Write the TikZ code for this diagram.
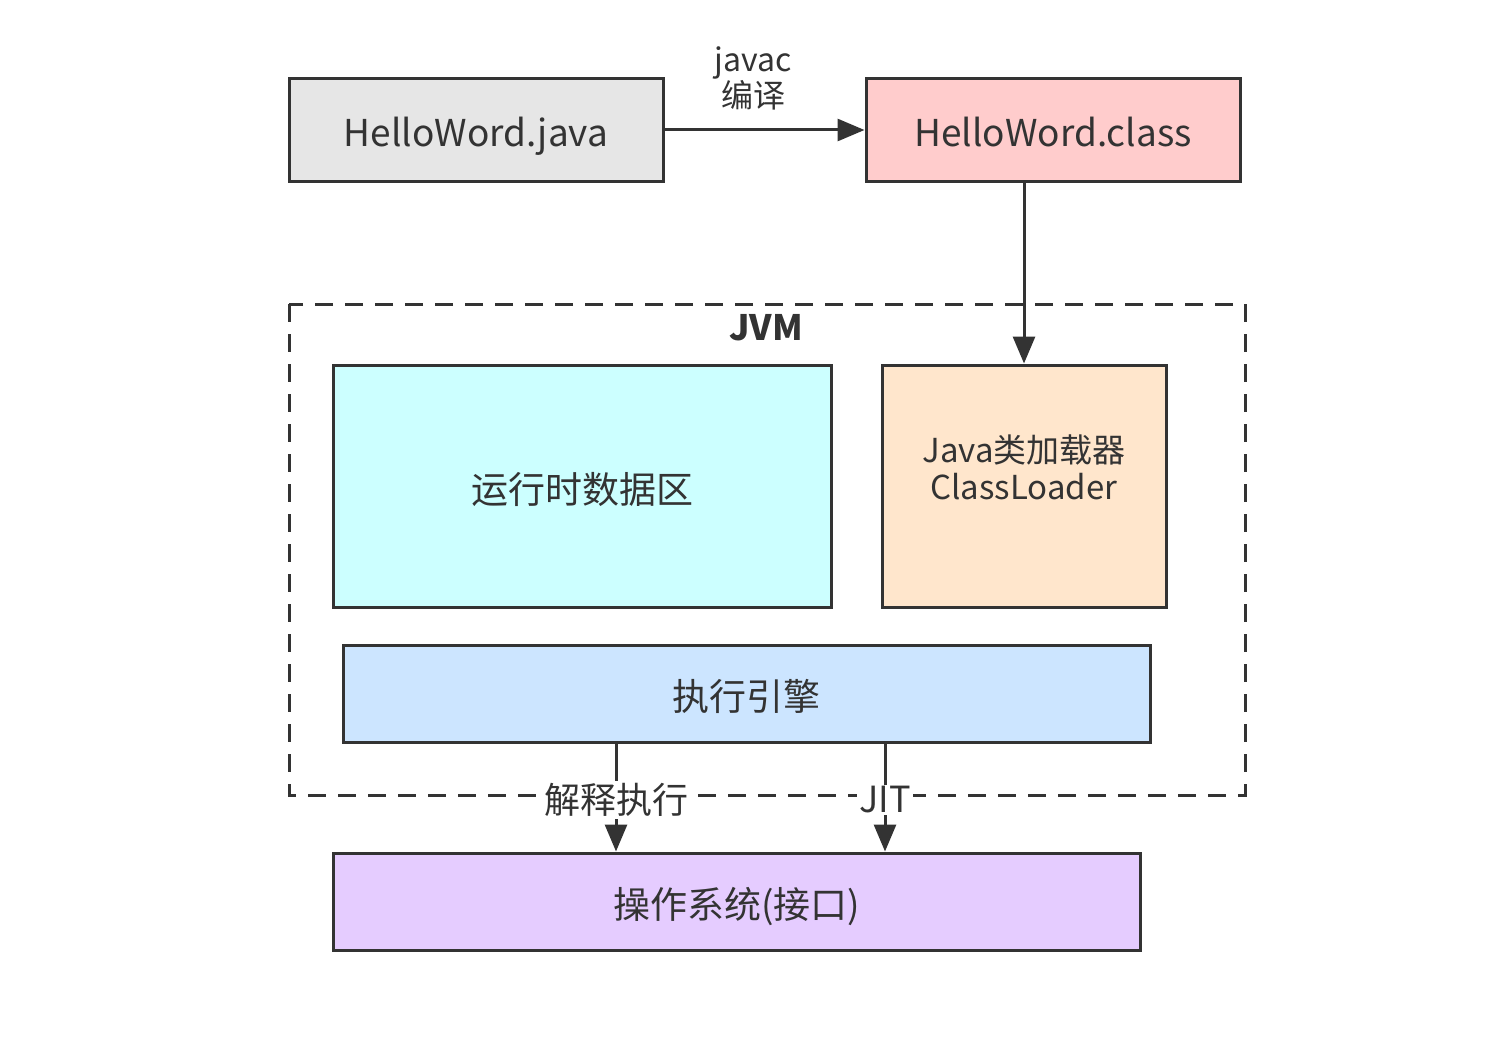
\documentclass[tikz,border=0pt]{standalone}
\usepackage{fontspec}
\setmainfont{Noto Sans CJK SC}
\usetikzlibrary{arrows.meta}
\definecolor{edge}{HTML}{333333}
\definecolor{txt}{HTML}{333333}
\newcommand{\lowered}[2]{\raisebox{#1}[0pt][0pt]{#2}}
\tikzset{
  box/.style={draw=edge, line width=3pt, inner sep=0pt, text=txt, font=\fontsize{37}{44}\selectfont, align=center},
  conn/.style={draw=edge, line width=3pt, -{Triangle[length=27pt,width=22pt]}},
  lbl/.style={fill=white, inner sep=2pt, text=txt, font=\fontsize{36}{40}\selectfont, align=center}
}
\begin{document}
\begin{tikzpicture}[x=1pt,y=-1pt]
\useasboundingbox (0,0) rectangle (1498,1054);
% JVM container
\draw[edge, line width=3pt, dash pattern=on 18pt off 12pt] (289,304) rectangle (1245,795);
\node[font=\bfseries\fontsize{35}{40}\selectfont, text=txt] (jvm) at (766,328) {JVM};
% boxes
\node[box, fill={rgb,255:red,230;green,230;blue,230}, minimum width=374pt, minimum height=102pt] (java) at (476,130) {\lowered{-17pt}{HelloWord.java}};
\node[box, fill={rgb,255:red,255;green,204;blue,204}, minimum width=374pt, minimum height=102pt] (class) at (1053,130) {\lowered{-17pt}{HelloWord.class}};
\node[box, fill={rgb,255:red,204;green,255;blue,255}, minimum width=498pt, minimum height=242pt] (rt) at (582,486) {\lowered{-17pt}{运行时数据区}};
\node[box, fill={rgb,255:red,255;green,230;blue,204}, minimum width=284pt, minimum height=242pt, font=\fontsize{33}{37}\selectfont] (cl) at (1024,486) {\lowered{7pt}{\begin{tabular}{@{}c@{}}Java类加载器\\ClassLoader\end{tabular}}};
\node[box, fill={rgb,255:red,204;green,229;blue,255}, minimum width=807pt, minimum height=97pt] (ee) at (746.5,693.5) {\lowered{-17pt}{执行引擎}};
\node[box, fill={rgb,255:red,229;green,204;blue,255}, minimum width=807pt, minimum height=97pt] (os) at (736.5,901.5) {\lowered{-17pt}{操作系统(接口)}};
% connectors
\draw[conn] (java.east) -- (class.west);
\node[text=txt, inner sep=0pt, align=center, font=\fontsize{32}{36}\selectfont] (javac) at (753,78) {javac\\编译};
\draw[conn] (class.south -| cl.north) -- (cl.north);
\coordinate (e1) at (616,742);
\coordinate (e2) at (885,742);
\draw[conn] (e1) -- (e1 |- os.north);
\draw[conn] (e2) -- (e2 |- os.north);
\node[lbl] (l1) at (616,800) {解释执行};
\node[lbl] (l2) at (885,800) {JIT};
\end{tikzpicture}
\end{document}
